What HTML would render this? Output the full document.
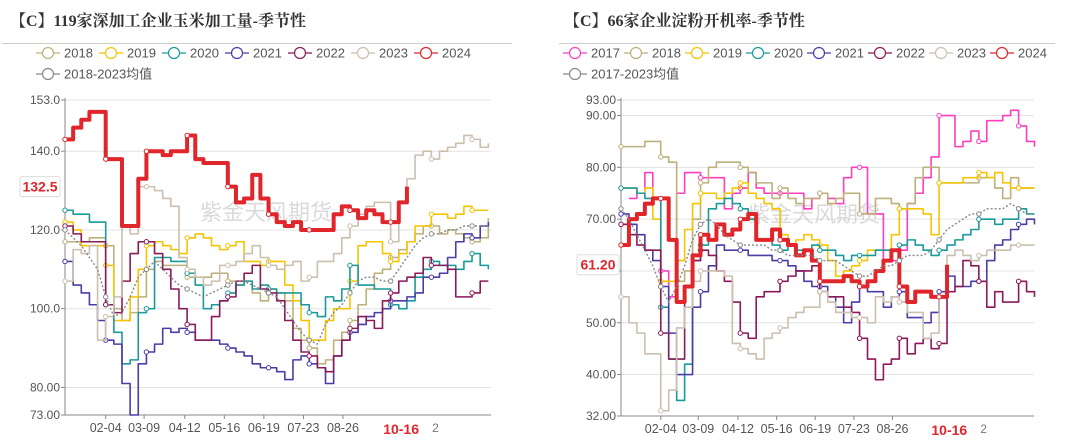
<!DOCTYPE html>
<html><head><meta charset="utf-8"><style>
body{margin:0;width:1080px;height:444px;background:#fff;overflow:hidden;font-family:"Liberation Sans","Noto Sans CJK SC",sans-serif}
svg{display:block}
</style></head><body>
<svg id="root" width="1080" height="444"></svg>
<script>
// ---------- data: left chart (119 deep-processing corn volume) ----------
const L_years = ["2018","2019","2020","2021","2022","2023","2024","2018-2023均值"];
const L_ticks = [153,140,120,100,80,73];
const L_tickLabels = ["153.0","140.0","120.0","100.0","80.00","73.00"];
const xLabels = ["02-04","03-09","04-12","05-16","06-19","07-23","08-26"];
const xLabelDays = [35,68,103,137,171,205,239];
const L_2018 = [117,117,117,118,118,116,100,97,99,103,110,112,111,111,111,108,108,108,109,109,107,106,107,104,102,105,104,102,95,92,90,86,87,92,94,97,101,105,109,110,113,115,117,119,121,121,119,120,119,118,117,118,123];
const L_2019 = [122,120,116,116,116,111,97,97,103,110,116,117,116,115,114,118,119,118,116,115,116,117,112,112,111,112,112,106,102,97,92,92,97,100,100,107,116,117,117,114,112,114,117,121,121,124,124,123,124,126,125,125,125];
const L_2020 = [125,124,124,122,122,101,94,86,87,99,100,113,113,112,112,109,106,100,101,102,104,106,107,105,106,105,104,104,104,101,99,98,103,102,105,111,106,106,105,105,101,100,102,108,110,112,111,111,110,112,114,111,110];
const L_2021 = [112,106,104,101,97,92,91,81,73,86,89,91,95,94,95,94,92,92,92,91,90,89,88,86,85,85,84,82,87,88,86,85,81,88,92,94,96,98,99,100,102,102,103,104,108,108,109,113,117,119,118,121,122];
const L_2022 = [121,119,117,117,117,101,99,107,114,117,117,114,110,105,100,96,92,92,98,102,103,107,109,111,105,104,102,97,92,89,88,85,84,88,92,95,98,97,95,102,104,107,108,109,113,111,111,110,103,103,104,107,107];
const L_2023 = [107,115,114,116,92,98,103,121,119,131,131,130,128,126,113,110,108,106,107,111,111,112,114,116,113,111,110,111,112,107,108,112,112,114,118,121,124,126,127,127,117,127,133,139,140,138,140,141,142,144,143,141,142];
const L_2024 = [143,146,148,150,150,138,138,121,121,133,140,140,139,140,140,144,138,137,137,137,131,127,128,134,128,124,122,121,122,120,120,120,120,124,126,125,123,125,124,122,122,127,131];
const L_avg = [120,118,116,113,110,103,98,99,103,108,110,112,110,108,106,105,104,103,104,105,106,107,107,106,105,104,103,100,97,94,92,91,96,99,101,104,107,108,108,107,107,110,113,116,118,119,119,120,120,121,121,121,121];

// ---------- data: right chart (66 starch plants operating rate) ----------
const R_years = ["2017","2018","2019","2020","2021","2022","2023","2024","2017-2023均值"];
const R_ticks = [93,90,80,70,60,50,40,32];
const R_tickLabels = ["93.00","90.00","80.00","70.00","60.00","50.00","40.00","32.00"];
const R_2017 = [null,74,75,79,74,60,55,75,79,79,78,78,78,72,75,76,79,76,75,75,75,75,75,72,74,75,74,73,78,80,80,71,71,62,62,64,73,75,78,82,90,90,84,85,87,85,89,89,90,91,88,85,84];
const R_2018 = [84,84,84,85,85,82,81,58,60,70,77,80,81,81,81,80,79,77,77,74,76,74,73,74,74,75,73,74,75,75,71,71,74,74,73,72,73,78,80,80,77,77,77,77,77,78,78,76,74,78,76,76,76];
const R_2019 = [76,76,75,76,70,58,58,62,68,73,75,75,74,75,76,77,75,74,73,72,67,65,66,67,66,65,62,59,60,61,62,64,64,64,67,72,72,72,71,67,77,77,77,78,78,79,78,79,77,76,76,76,76];
const R_2020 = [76,76,75,74,74,53,43,35,42,62,65,72,73,74,73,72,70,66,66,65,64,65,64,64,65,64,64,63,62,63,63,63,64,64,64,65,66,65,64,63,64,65,66,67,68,70,70,69,70,70,72,71,71];
const R_2021 = [71,69,67,64,62,57,48,40,40,53,56,61,65,64,64,64,63,63,63,62,62,61,60,58,57,57,55,53,50,54,57,56,56,53,55,56,51,51,50,52,56,59,57,57,58,58,62,65,66,68,69,70,69];
const R_2022 = [69,67,65,64,64,48,43,43,57,62,64,63,60,58,54,48,47,55,56,56,58,59,60,60,61,56,55,55,53,52,47,43,39,42,43,47,44,46,47,45,46,56,57,62,61,58,53,56,54,54,58,56,55];
const R_2023 = [55,50,48,44,44,33,37,49,53,58,60,60,60,59,46,45,44,43,47,48,49,51,52,53,53,56,54,52,52,51,51,50,55,54,55,54,52,52,47,48,55,63,64,63,62,63,64,64,64,65,65,65,65];
const R_2024 = [65,70,71,73,74,74,66,54,57,63,67,66,69,67,68,70,71,66,66,68,66,65,63,64,62,58,58,58,59,58,57,58,60,62,64,57,54,56,56,55,55,61.2];
const R_avg = [72,70,67,64,61,57,54,57,61,66,69,70,69,67,66,65,65,65,65,64,64,63,63,63,63,62,62,62,61,60,59,59,60,61,61,62,63,63,63,64,66,68,69,70,71,71,72,72,72,73,72,71,71];

const NS="http://www.w3.org/2000/svg";
const root=document.getElementById('root');
function mk(tag,attrs,parent){const e=document.createElementNS(NS,tag);for(const k in attrs)e.setAttribute(k,attrs[k]);(parent||root).appendChild(e);return e;}

function chart(cfg){
  const g=mk('g',{});
  
  
  const {x0,x1,y0,y1,vmax,vmin}=cfg;
  const yS=v=>y0+(vmax-v)/(vmax-vmin)*(y1-y0);
  const xS=w=>x0+w*7*cfg.ppd;
  // title
  const t=mk('text',{x:cfg.titleX,y:26,'font-size':16,'font-weight':'bold','font-family':'"Liberation Serif","Noto Serif CJK SC",serif',fill:'#333'},g);
  t.textContent=cfg.title;
  
  
  const dv=mk('line',{x1:cfg.divX0,x2:cfg.divX1,y1:43.5,y2:43.5,stroke:'#ccc','stroke-width':1},g);
  
  
  // legend
  cfg.legend.forEach((lab,i)=>{
    const row=i<cfg.perRow?0:1, col=i<cfg.perRow?i:i-cfg.perRow;
    const lx=cfg.legX+col*cfg.legStep, ly=row?74:53;
    const lg=mk('g',{},g);
    
    
    mk('line',{x1:lx-12,x2:lx+12,y1:ly,y2:ly,stroke:cfg.colors[i],'stroke-width':1.2},lg);
    mk('circle',{cx:lx,cy:ly,r:5.5,fill:'#fff',stroke:cfg.colors[i],'stroke-width':1.2},lg);
    const tx=mk('text',{x:lx+16,y:ly+4.5,'font-size':13,fill:'#555'},lg);
    tx.textContent=lab;
  });
  // grid + y ticks
  cfg.ticks.forEach((v,i)=>{
    const y=yS(v);
    const gl=mk('line',{x1:x0,x2:x1,y1:y,y2:y,stroke:'#e3e3e3','stroke-width':1},g);
    
    
    mk('line',{x1:x0-4,x2:x0,y1:y,y2:y,stroke:'#888'},g);
    const tl=mk('text',{x:x0-5,y:y+4,'font-size':12,fill:'#555','text-anchor':'end'},g);
    tl.textContent=cfg.tickLabels[i];
    
    
  });
  const ax=mk('line',{x1:x0,x2:x0,y1:y0-2,y2:y1,stroke:'#888'},g);
  
  
  const bx=mk('line',{x1:x0,x2:x1,y1:y1,y2:y1,stroke:'#888'},g);
  
  
  xLabelDays.forEach((d,i)=>{
    const x=x0+d*cfg.ppd;
    mk('line',{x1:x,x2:x,y1:y1,y2:y1+4,stroke:'#888'},g);
    const tl=mk('text',{x:x,y:y1+17,'font-size':12.5,fill:'#555','text-anchor':'middle'},g);
    tl.textContent=xLabels[i];
    
    
  });
  const cx=x0+289*cfg.ppd;
  const ct=mk('text',{x:cx,y:y1+19,'font-size':14,'font-weight':'bold',fill:'#e0262b','text-anchor':'middle'},g);
  ct.textContent='10-16';
  
  
  mk('text',{x:cx+31,y:y1+17,'font-size':12,fill:'#777'},g).textContent='2';
  // watermark
  const wm=mk('text',{x:cfg.wmX,y:cfg.wmY,'font-size':22,fill:'#bbb','fill-opacity':0.55},g);
  wm.textContent='紫金天风期货';
  
  
  // series
  cfg.series.forEach((s,i)=>{
    let d='';let prev=null;
    s.forEach((v,w)=>{
      if(v==null){prev=null;return;}
      const x=xS(w),y=yS(v);
      if(prev==null)d+=`M${x},${y}`;
      else if(cfg.smooth[i])d+=`L${x},${y}`;
      else d+=`H${x}V${y}`;
      prev=v;
    });
    const p=mk('path',{d:d,fill:'none',stroke:cfg.colors[i],'stroke-width':cfg.widths[i],'stroke-linejoin':'round','stroke-dasharray':cfg.smooth[i]?'2,2':'none'},g);
    
    
    // a few markers
    s.forEach((v,w)=>{
      if(v==null||w%5!==0)return;
      mk('circle',{cx:xS(w),cy:yS(v),r:2.2,fill:'#fff',stroke:cfg.colors[i],'stroke-width':1},g);
    });
  });
  // last-value label
  const cur=cfg.series[cfg.curIdx];
  const lv=cur[cur.length-1];
  const ly=yS(lv);
  const lb=mk('g',{},g);
  
  
  mk('rect',{x:cfg.lblX,y:ly-10,width:cfg.lblW,height:20,fill:'#fff',stroke:'#ddd',rx:2},lb);
  const lt=mk('text',{x:cfg.lblX+cfg.lblW/2,y:ly+5,'font-size':14,'font-weight':'bold',fill:'#e0262b','text-anchor':'middle'},lb);
  lt.textContent=cfg.lblText;
}

chart({name:'corn-processing-chart',title:'【C】119家深加工企业玉米加工量-季节性',titleX:10,divX0:2,divX1:512,
  x0:65,x1:491,y0:100,y1:415,vmax:153,vmin:73,ppd:1.163,ticks:L_ticks,tickLabels:L_tickLabels,
  legend:L_years,perRow:7,legX:48,legStep:63,wmX:200,wmY:220,
  colors:['#bdb07a','#f5c400','#1a9a9a','#4b3ca8','#8b1a5a','#cdbfae','#e0262b','#888'],
  widths:[1.6,1.6,1.6,1.6,1.6,1.6,4,1.4],smooth:[0,0,0,0,0,0,0,1],
  series:[L_2018,L_2019,L_2020,L_2021,L_2022,L_2023,L_2024,L_avg],curIdx:6,lblX:20,lblW:40,lblText:'132.5'});

chart({name:'starch-operating-rate-chart',title:'【C】66家企业淀粉开机率-季节性',titleX:564,divX0:559,divX1:1055,
  x0:621,x1:1034,y0:100,y1:416,vmax:93,vmin:32,ppd:1.136,ticks:R_ticks,tickLabels:R_tickLabels,
  legend:R_years,perRow:8,legX:575,legStep:61,wmX:748,wmY:222,
  colors:['#ff3fbf','#bdb07a','#f5c400','#1a9a9a','#4b3ca8','#8b1a5a','#cdbfae','#e0262b','#888'],
  widths:[1.6,1.6,1.6,1.6,1.6,1.6,1.6,4,1.4],smooth:[0,0,0,0,0,0,0,0,1],
  series:[R_2017,R_2018,R_2019,R_2020,R_2021,R_2022,R_2023,R_2024,R_avg],curIdx:7,lblX:577,lblW:42,lblText:'61.20'});
</script>
</body></html>
